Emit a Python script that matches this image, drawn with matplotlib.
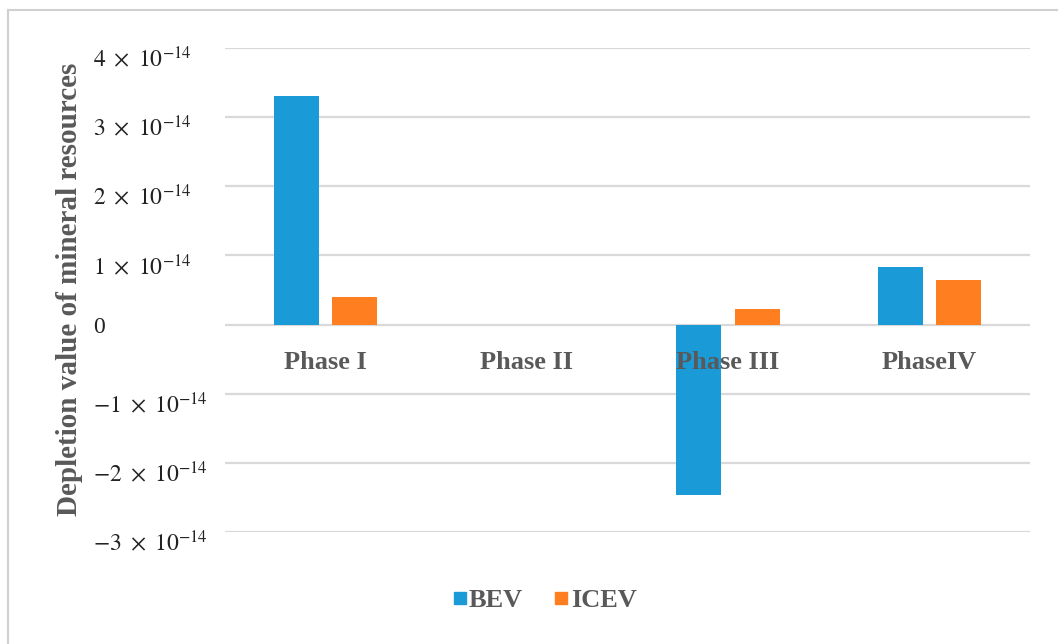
import matplotlib
matplotlib.use('Agg')
import matplotlib.pyplot as plt
import matplotlib.lines as mlines
import matplotlib.transforms as mtransforms
import numpy as np

# Depletion of mineral resources per life-cycle phase
phases = ['Phase I', 'Phase II', 'Phase III', 'PhaseIV']
bev = [3.30e-14, 0.0, -2.46e-14, 0.83e-14]
icev = [0.40e-14, 0.0, 0.22e-14, 0.65e-14]
yticks = [-3e-14, -2e-14, -1e-14, 0, 1e-14, 2e-14, 3e-14, 4e-14]
ytick_labels = [r'$-3\ \times\ 10^{-14}$', r'$-2\ \times\ 10^{-14}$', r'$-1\ \times\ 10^{-14}$', '0',
                r'$1\ \times\ 10^{-14}$', r'$2\ \times\ 10^{-14}$', r'$3\ \times\ 10^{-14}$',
                r'$4\ \times\ 10^{-14}$']

COLOR_BEV = '#1a9ad6'
COLOR_ICEV = '#ff7f20'
TEXT_GRAY = '#595959'

plt.rcParams['mathtext.fontset'] = 'stix'
plt.rcParams['font.family'] = ['Liberation Serif', 'DejaVu Serif']

fig = plt.figure(figsize=(10.58, 6.44), dpi=100)
fig.patch.set_facecolor('white')
ax = fig.add_axes([0.2127, 0.1739, 0.7608, 0.7516])

x = np.arange(len(phases))
width = 0.224
ax.bar(x - 0.145, bev, width, color=COLOR_BEV, linewidth=0, zorder=2)
ax.bar(x + 0.145, icev, width, color=COLOR_ICEV, linewidth=0, zorder=2)

ax.set_xlim(-0.5, len(phases) - 0.5)
ax.set_ylim(-3e-14, 4e-14)
ax.set_yticks(yticks)
ax.set_yticklabels(ytick_labels, fontsize=17, color='#222222', ha='left')
ax.tick_params(axis='y', length=0, pad=95)
ax.set_xticks([])
ax.yaxis.grid(True, color='#d9d9d9', linewidth=1.6, zorder=0)
ax.set_axisbelow(True)
for s in ax.spines.values():
    s.set_visible(False)

# the superscript lifts the math labels; nudge them back down onto the gridline
shift = mtransforms.ScaledTranslation(0, -6 / 72, fig.dpi_scale_trans)
for lab in ax.get_yticklabels():
    if lab.get_text() != '0':
        lab.set_transform(lab.get_transform() + shift)

# category names sit just under the zero line
for i, name in enumerate(phases):
    ax.annotate(name, xy=(i, 0), xytext=(0, -27), textcoords='offset points',
                ha='center', va='center', fontsize=19, fontweight='bold',
                color=TEXT_GRAY, zorder=3)

fig.text(0.066, 0.55, 'Depletion value of mineral resources', rotation=90,
         ha='center', va='center', fontsize=21, fontweight='bold', color=TEXT_GRAY)

handles = [
    mlines.Line2D([0], [0], marker='s', color='w', markerfacecolor=COLOR_BEV,
                  markeredgecolor=COLOR_BEV, markersize=8, label='BEV'),
    mlines.Line2D([0], [0], marker='s', color='w', markerfacecolor=COLOR_ICEV,
                  markeredgecolor=COLOR_ICEV, markersize=8, label='ICEV'),
]
leg = fig.legend(handles=handles, loc='center', bbox_to_anchor=(0.515, 0.068), ncol=2,
                 frameon=False, handlelength=0.5, handletextpad=0.1, columnspacing=1.2,
                 prop={'family': 'Liberation Serif', 'weight': 'bold', 'size': 19})
for t in leg.get_texts():
    t.set_color(TEXT_GRAY)

# light frame along the top and left edge
fig.add_artist(mlines.Line2D([0.0076, 0.0076], [0.0, 0.985], color='#d0d0d0', linewidth=1.5))
fig.add_artist(mlines.Line2D([0.0076, 1.0], [0.985, 0.985], color='#d0d0d0', linewidth=1.5))

fig.savefig('out.png', dpi=100, facecolor='white')
